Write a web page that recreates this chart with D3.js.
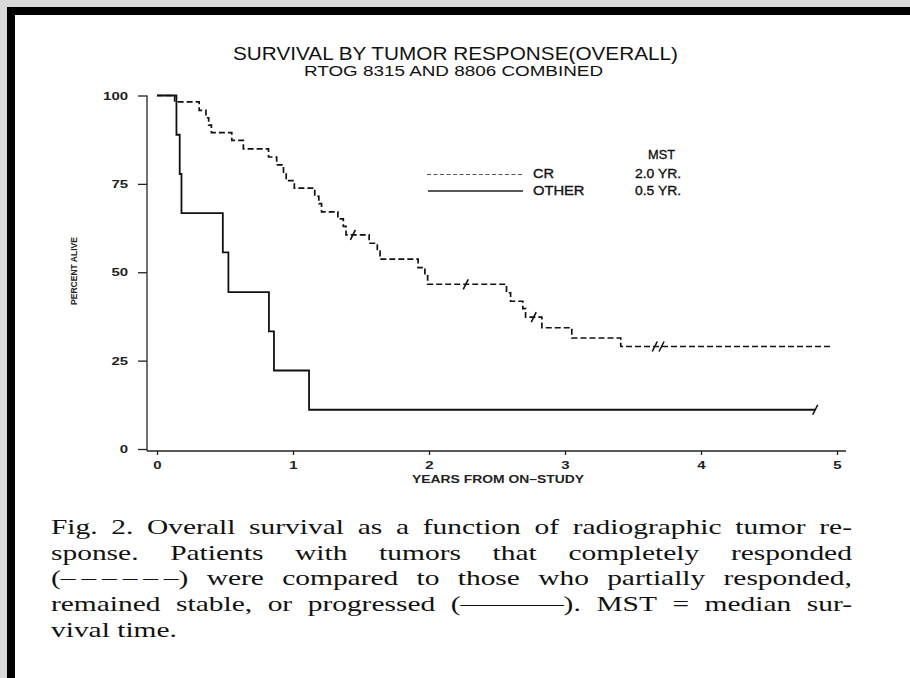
<!DOCTYPE html>
<html>
<head>
<meta charset="utf-8">
<script src="https://cdn.jsdelivr.net/npm/d3@7"></script>
<style>
  html, body { margin: 0; padding: 0; background: #d9d9d9; }
  svg { display: block; }
</style>
</head>
<body>
<svg id="fig" width="910" height="678"></svg>
<script>
// ---- data ----
const yearTicks = [0, 1, 2, 3, 4, 5];
const percentTicks = [0, 25, 50, 75, 100];

// Complete responders (CR): Kaplan-Meier step times (years) and percent alive
const crTimes    = [0, 0.13, 0.31, 0.36, 0.38, 0.40, 0.55, 0.635, 0.82, 0.88, 0.93, 0.95, 1.01, 1.16, 1.19, 1.21, 1.33, 1.37, 1.39, 1.56, 1.62, 1.64, 1.92, 1.97, 1.99, 2.57, 2.60, 2.69, 2.71, 2.83, 3.05, 3.41];
const crSurvival = [100, 98.2, 95.8, 93.7, 91.6, 89.5, 87.3, 84.9, 82.6, 80.4, 78.3, 75.9, 73.8, 71.5, 69.4, 67.1, 65.1, 63.0, 60.6, 58.2, 56.0, 53.7, 51.3, 49.0, 46.6, 44.2, 41.8, 39.7, 37.3, 34.3, 31.4, 29.0];
const crLastFollowUp = 4.96;
const crCensored = [1.44, 2.27, 2.77, 3.66, 3.71];

// Partial response / stable / progression (OTHER)
const otherTimes    = [0, 0.143, 0.167, 0.18, 0.484, 0.525, 0.823, 0.86, 1.118];
const otherSurvival = [100, 88.9, 77.8, 66.7, 55.6, 44.4, 33.3, 22.2, 11.1];
const otherLastFollowUp = 4.84;
const otherCensored = [4.84];

const seriesNames = ["CR", "OTHER"];
const medianSurvival = ["2.0 YR.", "0.5 YR."];

const titleText = "SURVIVAL BY TUMOR RESPONSE(OVERALL)";
const subtitleText = "RTOG 8315 AND 8806 COMBINED";
const xTitle = "YEARS FROM ON\u2013STUDY";
const yTitle = "PERCENT ALIVE";

const captionLines = [
  "Fig. 2. Overall survival as a function of radiographic tumor re-",
  "sponse. Patients with tumors that completely responded",
  "(\u2013\u2009\u2013\u2009\u2013\u2009\u2013\u2009\u2013\u2009\u2013) were compared to those who partially responded,",
  "remained stable, or progressed (\u2014\u2014\u2014\u2013). MST = median sur-",
  "vival time."
];

// ---- page frame ----
const W = 910, H = 678;
const svg = d3.select("#fig");
svg.append("rect").attr("width", W).attr("height", H).attr("fill", "#d9d9d9");
svg.append("rect").attr("x", 7).attr("y", 7).attr("width", W - 7).attr("height", H - 7).attr("fill", "#000");
svg.append("rect").attr("x", 15).attr("y", 15).attr("width", W - 15).attr("height", H - 15).attr("fill", "#fff");

const sans = "'Liberation Sans', Arial, Helvetica, sans-serif";
const serif = "'Liberation Serif', 'Times New Roman', serif";

// widen text horizontally by factor k
function stretch(sel, k) {
  sel.each(function () {
    const w = this.getComputedTextLength();
    d3.select(this).attr("textLength", w * k).attr("lengthAdjust", "spacingAndGlyphs");
  });
}

// ---- scales ----
const x = d3.scaleLinear().domain([0, 5]).range([157, 837]);
const y = d3.scaleLinear().domain([0, 100]).range([449, 95.5]);

// ---- titles ----
svg.append("text").attr("x", 455.5).attr("y", 60).attr("text-anchor", "middle")
  .attr("font-family", sans).attr("font-size", 18).attr("fill", "#111")
  .attr("textLength", 445).attr("lengthAdjust", "spacingAndGlyphs")
  .text(titleText);
svg.append("text").attr("x", 453.5).attr("y", 76).attr("text-anchor", "middle")
  .attr("font-family", sans).attr("font-size", 14.5).attr("fill", "#111")
  .attr("textLength", 299).attr("lengthAdjust", "spacingAndGlyphs")
  .text(subtitleText);

// ---- axes ----
const axisColor = "#222";
svg.append("line").attr("x1", 147).attr("x2", 147).attr("y1", y(100)).attr("y2", 451)
  .attr("stroke", axisColor).attr("stroke-width", 1.3);
svg.append("line").attr("x1", 147).attr("x2", 846).attr("y1", 451).attr("y2", 451)
  .attr("stroke", axisColor).attr("stroke-width", 1.3);

const gy = svg.append("g").attr("transform", "translate(147,0)")
  .call(d3.axisLeft(y).tickValues(percentTicks).tickSize(9).tickPadding(10));
gy.select(".domain").remove();
gy.selectAll(".tick line").attr("stroke", axisColor).attr("stroke-width", 1.3);
gy.selectAll(".tick text").attr("font-family", sans).attr("font-size", 11.5)
  .attr("font-weight", "bold").attr("fill", "#222").call(stretch, 1.3);

const gx = svg.append("g").attr("transform", "translate(0,451)")
  .call(d3.axisBottom(x).tickValues(yearTicks).tickSize(4).tickPadding(5.5).tickFormat(d3.format("d")));
gx.select(".domain").remove();
gx.selectAll(".tick line").attr("stroke", axisColor).attr("stroke-width", 1.3);
gx.selectAll(".tick text").attr("font-family", sans).attr("font-size", 11.5)
  .attr("font-weight", "bold").attr("fill", "#222").call(stretch, 1.3);

svg.append("text").attr("x", 498).attr("y", 483).attr("text-anchor", "middle")
  .attr("font-family", sans).attr("font-size", 10.5).attr("font-weight", "bold").attr("fill", "#222")
  .attr("textLength", 172).attr("lengthAdjust", "spacingAndGlyphs")
  .text(xTitle);
svg.append("text").attr("transform", "translate(77,271) rotate(-90)").attr("text-anchor", "middle")
  .attr("font-family", sans).attr("font-size", 9).attr("font-weight", "bold").attr("fill", "#222")
  .attr("textLength", 68).attr("lengthAdjust", "spacingAndGlyphs")
  .text(yTitle);

// ---- survival curves ----
const stepLine = d3.line().x(d => x(d[0])).y(d => y(d[1])).curve(d3.curveStepAfter);
function track(times, surv, last) {
  const pts = times.map((t, i) => [t, surv[i]]);
  pts.push([last, surv[surv.length - 1]]);
  return pts;
}
function survivalAt(times, surv, t) {
  let v = surv[0];
  times.forEach((tt, i) => { if (tt <= t) v = surv[i]; });
  return v;
}

svg.append("path").datum(track(otherTimes, otherSurvival, otherLastFollowUp))
  .attr("d", stepLine).attr("fill", "none").attr("stroke", "#111").attr("stroke-width", 1.8);
svg.append("path").datum(track(crTimes, crSurvival, crLastFollowUp))
  .attr("d", stepLine).attr("fill", "none").attr("stroke", "#111").attr("stroke-width", 1.7)
  .attr("stroke-dasharray", "6,3");

function censorMarks(times, surv, cens) {
  svg.append("g").selectAll("line").data(cens).join("line")
    .attr("x1", t => x(t) - 2.5).attr("y1", t => y(survivalAt(times, surv, t)) + 5)
    .attr("x2", t => x(t) + 2.5).attr("y2", t => y(survivalAt(times, surv, t)) - 5)
    .attr("stroke", "#111").attr("stroke-width", 1.6);
}
censorMarks(crTimes, crSurvival, crCensored);
censorMarks(otherTimes, otherSurvival, otherCensored);

// ---- legend ----
svg.append("line").attr("x1", 427).attr("x2", 522).attr("y1", 174.5).attr("y2", 174.5)
  .attr("stroke", "#555").attr("stroke-width", 1.1).attr("stroke-dasharray", "4,2.5");
svg.append("line").attr("x1", 428).attr("x2", 523).attr("y1", 191).attr("y2", 191)
  .attr("stroke", "#222").attr("stroke-width", 1.3);

const legendFont = g => g.attr("font-family", sans).attr("font-size", 12.5).attr("fill", "#111")
  .attr("stroke", "#111").attr("stroke-width", 0.35)
  .attr("lengthAdjust", "spacingAndGlyphs");
svg.append("text").attr("x", 533).attr("y", 178).call(legendFont).attr("textLength", 21).text(seriesNames[0]);
svg.append("text").attr("x", 533).attr("y", 195).call(legendFont).attr("textLength", 51.5).text(seriesNames[1]);
svg.append("text").attr("x", 648).attr("y", 158.5).call(legendFont).attr("textLength", 27).text("MST");
svg.append("text").attr("x", 635).attr("y", 178).call(legendFont).attr("textLength", 46).text(medianSurvival[0]);
svg.append("text").attr("x", 635).attr("y", 195).call(legendFont).attr("textLength", 46).text(medianSurvival[1]);

// ---- caption (justified block) ----
const capLeft = 51, capWidth = 801;
const capBaselines = [534, 559.7, 585.4, 611.1, 636.8];
const cap = svg.append("g").attr("font-family", serif).attr("font-size", 21).attr("fill", "#111");
function measure(str) {
  const t = cap.append("text").text(str);
  const w = t.node().getComputedTextLength();
  t.remove();
  return w;
}
const sx = Math.min(126 / measure(captionLines[4]), capWidth / measure(captionLines[0]));
captionLines.forEach((line, li) => {
  const g = cap.append("g").attr("transform", `translate(${capLeft},${capBaselines[li]}) scale(${sx},1)`);
  const last = li === captionLines.length - 1;
  if (last) { g.append("text").text(line); return; }
  const words = line.split(" ");
  const widths = words.map(measure);
  const total = d3.sum(widths);
  const gap = (capWidth / sx - total) / (words.length - 1);
  let pos = 0;
  words.forEach((w, i) => {
    g.append("text").attr("x", pos).text(w);
    pos += widths[i] + gap;
  });
});
</script>
</body>
</html>
